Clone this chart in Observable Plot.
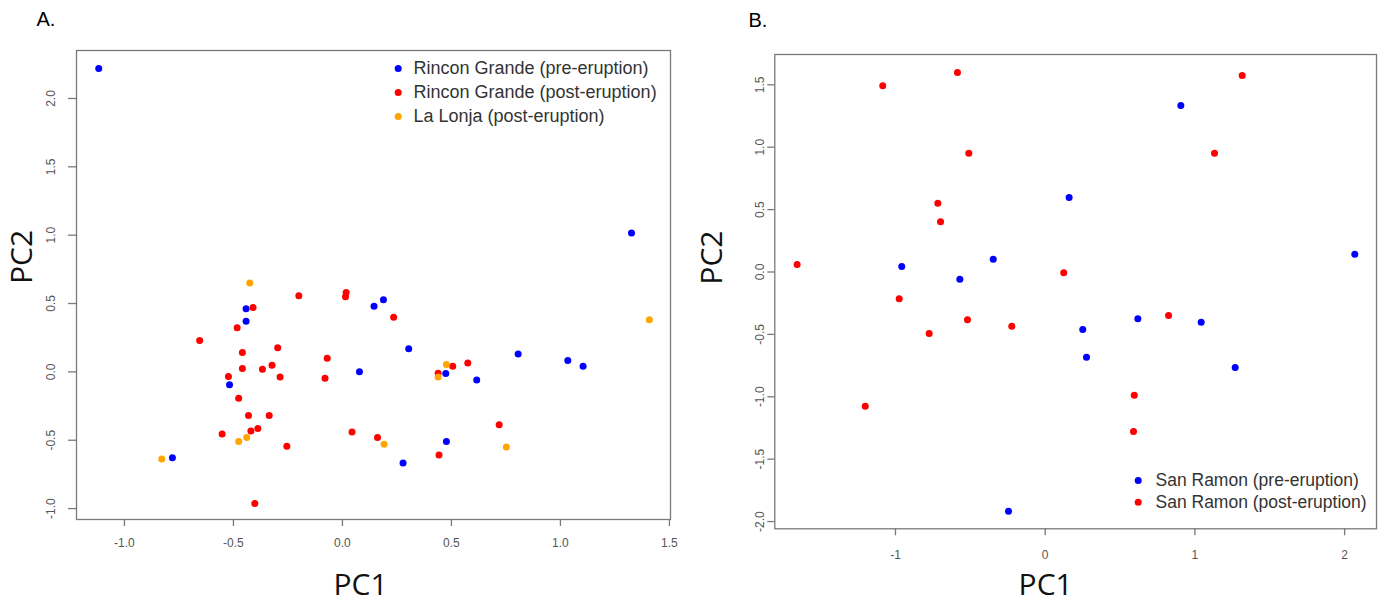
<!DOCTYPE html>
<html>
<head>
<meta charset="utf-8">
<script src="https://cdn.jsdelivr.net/npm/d3@7"></script>
<script src="https://cdn.jsdelivr.net/npm/@observablehq/plot@0.6"></script>
<style>
  html, body { margin: 0; padding: 0; background: #fff; }
  #wrap { position: relative; width: 1382px; height: 604px; overflow: hidden; background: #fff; }
  #wrap svg { position: absolute; top: 0; }
</style>
</head>
<body>
<div id="wrap"></div>
<script>
// ---------- Panel A data (PC1, PC2) ----------
const groupsA = ["Rincon Grande (pre-eruption)", "Rincon Grande (post-eruption)", "La Lonja (post-eruption)"];
const colorsA = ["#0000FF", "#FF0000", "#FFA500"];
const rinconPre = [
  [-1.118, 2.22], [1.326, 1.015], [-0.442, 0.462], [-0.442, 0.37], [-0.518, -0.095],
  [-0.78, -0.628], [0.078, 0.0], [0.145, 0.48], [0.188, 0.528], [0.304, 0.169],
  [0.474, -0.012], [0.616, -0.059], [0.806, 0.13], [1.034, 0.083], [1.104, 0.042],
  [0.477, -0.51], [0.278, -0.667]
];
const rinconPost = [
  [-0.41, 0.47], [-0.2, 0.557], [0.017, 0.58], [0.014, 0.55], [-0.483, 0.323],
  [-0.655, 0.23], [-0.459, 0.142], [-0.297, 0.176], [-0.459, 0.025], [-0.367, 0.02],
  [-0.323, 0.049], [-0.523, -0.034], [-0.286, -0.037], [-0.07, 0.1], [-0.08, -0.046],
  [-0.476, -0.193], [-0.431, -0.32], [-0.336, -0.32], [-0.552, -0.455], [-0.42, -0.432],
  [-0.388, -0.415], [-0.255, -0.545], [0.044, -0.44], [0.161, -0.481], [-0.402, -0.963],
  [0.235, 0.399], [0.439, -0.01], [0.506, 0.042], [0.575, 0.064], [0.719, -0.386],
  [0.443, -0.608]
];
const laLonja = [
  [-0.425, 0.65], [-0.476, -0.51], [-0.439, -0.481], [-0.829, -0.638], [0.191, -0.53],
  [0.477, 0.054], [0.439, -0.037], [0.752, -0.55], [1.408, 0.381]
];
const xTicksA = [-1.0, -0.5, 0.0, 0.5, 1.0, 1.5];
const yTicksA = [-1.0, -0.5, 0.0, 0.5, 1.0, 1.5, 2.0];

// ---------- Panel B data ----------
const groupsB = ["San Ramon (pre-eruption)", "San Ramon (post-eruption)"];
const colorsB = ["#0000FF", "#FF0000"];
const sanRamonPre = [
  [-0.958, 0.044], [-0.347, 0.103], [-0.57, -0.058], [-0.245, -1.917], [0.906, 1.334],
  [0.16, 0.597], [2.068, 0.143], [0.251, -0.461], [0.276, -0.683], [0.619, -0.375],
  [1.042, -0.402], [1.269, -0.765]
];
const sanRamonPost = [
  [-1.657, 0.06], [-1.085, 1.492], [-0.586, 1.599], [-0.51, 0.952], [-0.717, 0.551],
  [-0.699, 0.402], [-0.975, -0.215], [-0.775, -0.493], [-0.519, -0.383], [-0.223, -0.434],
  [-1.202, -1.075], [1.316, 1.575], [1.131, 0.952], [0.124, -0.006], [0.824, -0.349],
  [0.595, -0.987], [0.59, -1.278]
];
const xTicksB = [-1, 0, 1, 2];
const yTicksB = [-2.0, -1.5, -1.0, -0.5, 0.0, 0.5, 1.0, 1.5];

// ---------- build tables ----------
const toRows = (arr, g) => arr.map(([x, y]) => ({x, y, g}));
const pointsA = [
  ...toRows(rinconPre, groupsA[0]),
  ...toRows(rinconPost, groupsA[1]),
  ...toRows(laLonja, groupsA[2])
];
const pointsB = [
  ...toRows(sanRamonPre, groupsB[0]),
  ...toRows(sanRamonPost, groupsB[1])
];

const tickFont = "'Liberation Sans', Arial, sans-serif";
const titleFont = "'Open Sans', 'Liberation Sans', sans-serif";
const fmt1 = d => d.toFixed(1);

function panel({width, height, margin, xDomain, yDomain, points, groups, colors,
                xTicks, yTicks, xFmt, yFmt, yLabelDx, xLabelDy, ySize,
                legendDx, legendDy, legendStep, legendTextDx, legendFont,
                letter, letterDx, letterDy, pc1Dx, pc1Dy, pc2Dx, pc2Dy}) {
  const legendMarks = groups.flatMap((g, i) => [
    Plot.dot([g], {frameAnchor: "top-left", dx: legendDx, dy: legendDy + i * legendStep, fill: d => d, r: 3.5}),
    Plot.text([g], {frameAnchor: "top-left", dx: legendTextDx, dy: legendDy + i * legendStep, text: d => d,
      textAnchor: "start", lineAnchor: "middle", fontSize: legendFont, fill: "#333", fontFamily: tickFont})
  ]);
  return Plot.plot({
    width, height,
    marginLeft: margin[0], marginRight: margin[1], marginTop: margin[2], marginBottom: margin[3],
    style: {background: "transparent", overflow: "visible"},
    x: {domain: xDomain, axis: null},
    y: {domain: yDomain, axis: null},
    color: {domain: groups, range: colors},
    marks: [
      Plot.frame({stroke: "#7a7a7a", strokeWidth: 1.3}),
      Plot.axisX({ticks: xTicks, tickSize: 7, tickFormat: () => "", label: null, stroke: "#7a7a7a", strokeWidth: 1.3}),
      Plot.axisY({ticks: yTicks, tickSize: ySize, tickFormat: () => "", label: null, stroke: "#7a7a7a", strokeWidth: 1.3}),
      Plot.text(xTicks, {x: d => d, text: xFmt, frameAnchor: "bottom", dy: xLabelDy,
        textAnchor: "middle", lineAnchor: "middle", fontSize: 12, fill: "#555", fontFamily: tickFont}),
      Plot.text(yTicks, {y: d => d, text: yFmt, frameAnchor: "left", dx: yLabelDx, rotate: -90,
        textAnchor: "middle", lineAnchor: "middle", fontSize: 12, fill: "#555", fontFamily: tickFont}),
      Plot.dot(points, {x: "x", y: "y", fill: "g", r: 3.5}),
      ...legendMarks,
      Plot.text([letter], {frameAnchor: "top-left", dx: letterDx, dy: letterDy, text: d => d,
        fontSize: 20, fill: "#000", fontFamily: tickFont, lineAnchor: "middle"}),
      Plot.text(["PC1"], {frameAnchor: "bottom", dx: pc1Dx, dy: pc1Dy, text: d => d,
        fontSize: 30, fill: "#111", fontFamily: titleFont, lineAnchor: "middle"}),
      Plot.text(["PC2"], {frameAnchor: "left", dx: pc2Dx, dy: pc2Dy, rotate: -90, text: d => d,
        fontSize: 30, fill: "#111", fontFamily: titleFont, lineAnchor: "middle"})
    ]
  });
}

const svgA = panel({
  width: 690, height: 604, margin: [76, 20, 50, 85],
  xDomain: [-1.22, 1.505], yDomain: [-1.08, 2.351],
  points: pointsA, groups: groupsA, colors: colorsA,
  xTicks: xTicksA, yTicks: yTicksA, xFmt: fmt1, yFmt: fmt1,
  yLabelDx: -25, xLabelDy: 24, ySize: 8,
  legendDx: 321.7, legendDy: 18, legendStep: 24, legendTextDx: 337, legendFont: 18,
  letter: "A.", letterDx: -40, letterDy: -31,
  pc1Dx: -13, pc1Dy: 66, pc2Dx: -54, pc2Dy: -1
});
svgA.style.left = "0px";

const svgB = panel({
  width: 692, height: 604, margin: [84.3, 6, 54, 75.7],
  xDomain: [-1.806, 2.213], yDomain: [-2.058, 1.743],
  points: pointsB, groups: groupsB, colors: colorsB,
  xTicks: xTicksB, yTicks: yTicksB, xFmt: d => String(d), yFmt: fmt1,
  yLabelDx: -15, xLabelDy: 26, ySize: 7,
  legendDx: 363.4, legendDy: 426, legendStep: 21.7, legendTextDx: 380.7, legendFont: 17.5,
  letter: "B.", letterDx: -26.3, letterDy: -34,
  pc1Dx: -30, pc1Dy: 57, pc2Dx: -62, pc2Dy: -7
});
svgB.style.left = "690px";

const wrap = document.getElementById("wrap");
wrap.appendChild(svgA);
wrap.appendChild(svgB);
</script>
</body>
</html>
